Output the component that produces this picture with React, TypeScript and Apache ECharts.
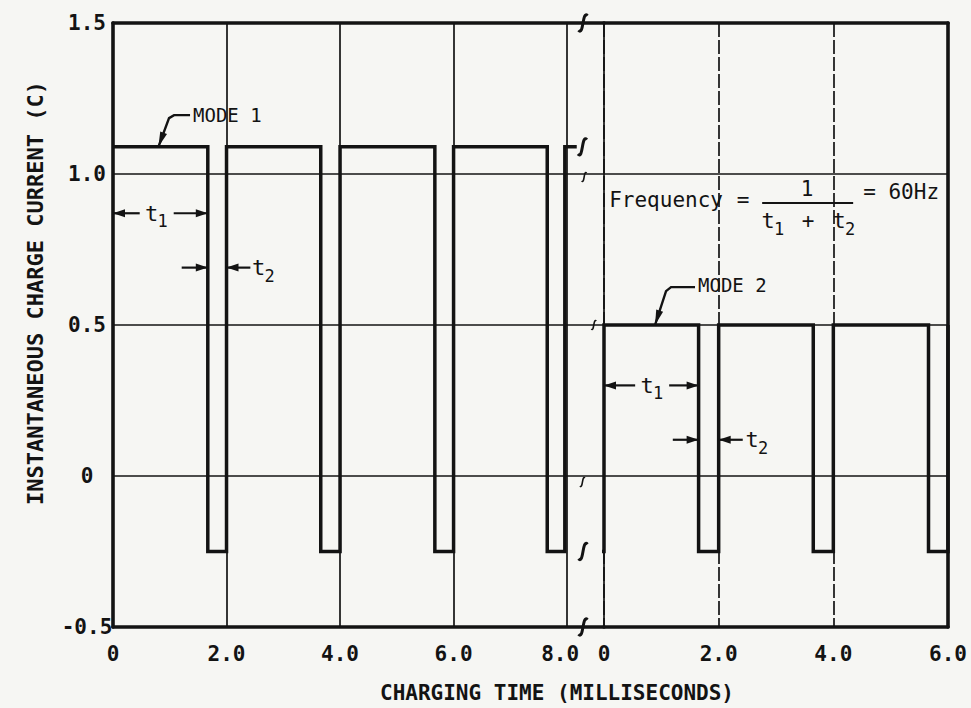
import React, { useEffect, useRef } from 'react';
import * as echarts from 'echarts';

// ---------------- data ----------------
const yTickValues = [-0.5, 0, 0.5, 1.0, 1.5];          // instantaneous charge current (C)
const leftTimeTicks = [0, 2, 4, 6, 8];                 // ms, MODE 1 panel
const rightTimeTicks = [0, 2, 4, 6];                   // ms, MODE 2 panel
const leftPanelMax = 8.65;                             // left panel runs on into the axis-break gap

const mode1Time = [0, 1.67, 1.67, 2.0, 2.0, 3.66, 3.66, 4.0, 4.0, 5.67, 5.67, 6.0, 6.0, 7.65, 7.65, 7.96, 7.96, 8.17];
const mode1Current = [1.09, 1.09, -0.25, -0.25, 1.09, 1.09, -0.25, -0.25, 1.09, 1.09, -0.25, -0.25, 1.09, 1.09, -0.25, -0.25, 1.09, 1.09];

const mode2Time = [-0.37, 0, 0, 1.65, 1.65, 2.0, 2.0, 3.65, 3.65, 4.0, 4.0, 5.66, 5.66, 6.0, 6.0];
const mode2Current = [-0.25, -0.25, 0.5, 0.5, -0.25, -0.25, 0.5, 0.5, -0.25, -0.25, 0.5, 0.5, -0.25, -0.25, 0.5];

// annotation anchors, in data coordinates of each panel
const mode1LabelAt = [1.41, 1.195];
const mode1LeaderTip = [0.8, 1.09];
const mode2LabelAt = [1.64, 0.632];
const mode2LeaderTip = [0.89, 0.5];
const t1Left = { from: 0, to: 1.67, level: 0.87, labelAt: 0.77 };
const t2Left = { at: [1.67, 2.0], tails: [1.21, 2.42], level: 0.69, labelAt: 2.53 };
const t1Right = { from: 0, to: 1.65, level: 0.3, labelAt: 0.84 };
const t2Right = { at: [1.65, 2.0], tails: [1.2, 2.42], level: 0.12, labelAt: 2.55 };
const frequencyAt = [0.09, 0.914];
const breakMarkTimes = [8.28, 8.27, 8.3, 8.47, 8.27, 8.28, 8.28];
const breakMarkLevels = [1.5, 1.09, 0.99, 0.5, -0.02, -0.25, -0.5];
const breakMarkBig = [true, true, false, false, false, true, true];

export default function App() {
  const ref = useRef<HTMLDivElement>(null);

  useEffect(() => {
    document.body.style.margin = '0';
    const chart = echarts.init(ref.current!, null, { renderer: 'svg' });
    const INK = '#131313';
    const FONT = "'DejaVu Sans Mono', 'Liberation Mono', monospace";
    const THICK = 3.6;
    const THIN = 1.7;
    const WAVE = 3.5;
    const yMin = yTickValues[0];
    const yMax = yTickValues[yTickValues.length - 1];
    const yStep = yTickValues[1] - yTickValues[0];
    const xStep = leftTimeTicks[1] - leftTimeTicks[0];
    const rightMax = rightTimeTicks[rightTimeTicks.length - 1];
    const leftLast = leftTimeTicks[leftTimeTicks.length - 1];

    const fmtLeft = (v: number) => {
      if (!leftTimeTicks.includes(v)) return '';
      const s = v === 0 ? '0' : v.toFixed(1);
      return v === leftLast ? `{shift|${s}}` : s;
    };
    const fmtRight = (v: number) => (rightTimeTicks.includes(v) ? (v === 0 ? '0' : v.toFixed(1)) : '');
    const fmtY = (v: number) => (v === 0 ? '0' : v.toFixed(1));

    const frameLine = { show: true, onZero: false, lineStyle: { color: INK, width: THICK } };
    const tickLabel = { color: INK, fontFamily: FONT, fontWeight: 'bold', fontSize: 21 };
    const noTick = { show: false };

    chart.setOption({
      animation: false,
      backgroundColor: '#f6f6f3',
      grid: [
        { left: 113, top: 23, width: 491, height: 604 },
        { left: 604, top: 23, width: 344, height: 604 },
      ],
      xAxis: [
        {
          type: 'value', gridIndex: 0, min: 0, max: leftPanelMax, interval: xStep, position: 'bottom',
          axisLine: frameLine, axisTick: noTick,
          axisLabel: {
            ...tickLabel, margin: 16, formatter: fmtLeft,
            rich: { shift: { ...tickLabel, padding: [0, 14, 0, 0] } },
          },
          splitLine: { show: true, lineStyle: { color: INK, width: THIN } },
        },
        {
          type: 'value', gridIndex: 1, min: 0, max: rightMax, interval: xStep, position: 'bottom',
          axisLine: frameLine, axisTick: noTick,
          axisLabel: { ...tickLabel, margin: 16, formatter: fmtRight },
          splitLine: { show: true, lineStyle: { color: INK, width: THIN, type: [14, 3] } },
        },
        {
          type: 'value', gridIndex: 0, min: 0, max: leftPanelMax, position: 'top',
          axisLine: frameLine, axisTick: noTick, axisLabel: { show: false }, splitLine: { show: false },
        },
        {
          type: 'value', gridIndex: 1, min: 0, max: rightMax, position: 'top',
          axisLine: frameLine, axisTick: noTick, axisLabel: { show: false }, splitLine: { show: false },
        },
      ],
      yAxis: [
        {
          type: 'value', gridIndex: 0, min: yMin, max: yMax, interval: yStep, position: 'left',
          axisLine: frameLine, axisTick: noTick,
          axisLabel: { ...tickLabel, align: 'center', margin: 26, formatter: fmtY },
          splitLine: { show: true, lineStyle: { color: INK, width: THIN } },
        },
        {
          type: 'value', gridIndex: 1, min: yMin, max: yMax, interval: yStep, position: 'left',
          axisLine: { show: false }, axisTick: noTick, axisLabel: { show: false },
          splitLine: { show: true, lineStyle: { color: INK, width: THIN } },
        },
        {
          type: 'value', gridIndex: 1, min: yMin, max: yMax, interval: yStep, position: 'right',
          axisLine: frameLine, axisTick: noTick, axisLabel: { show: false }, splitLine: { show: false },
        },
      ],
      series: [
        {
          name: 'MODE 1', type: 'line', xAxisIndex: 0, yAxisIndex: 0, silent: true,
          data: mode1Time.map((t, i) => [t, mode1Current[i]]),
          symbol: 'none', lineStyle: { color: INK, width: WAVE, join: 'miter' }, z: 5,
        },
        {
          name: 'MODE 2', type: 'line', xAxisIndex: 1, yAxisIndex: 1, silent: true, clip: false,
          data: mode2Time.map((t, i) => [t, mode2Current[i]]),
          symbol: 'none', lineStyle: { color: INK, width: WAVE, join: 'miter' }, z: 5,
        },
      ],
    });

    const P0 = (x: number, y: number) => chart.convertToPixel({ gridIndex: 0 }, [x, y]) as number[];
    const P1 = (x: number, y: number) => chart.convertToPixel({ gridIndex: 1 }, [x, y]) as number[];

    const els: any[] = [];
    const seg = (a: number[], b: number[], w = 2.2) =>
      els.push({ type: 'line', z: 20, shape: { x1: a[0], y1: a[1], x2: b[0], y2: b[1] }, style: { stroke: INK, lineWidth: w } });
    const arrow = (tip: number[], dx: number, dy: number, len = 12, half = 4) => {
      const bx = tip[0] - dx * len;
      const by = tip[1] - dy * len;
      els.push({
        type: 'polygon', z: 20,
        shape: { points: [[tip[0], tip[1]], [bx - dy * half, by + dx * half], [bx + dy * half, by - dx * half]] },
        style: { fill: INK },
      });
    };
    const txt = (x: number, y: number, s: string, size: number, extra: any = {}) =>
      els.push({
        type: 'text', z: 20, x, y, ...('rotation' in extra ? { rotation: extra.rotation } : {}),
        style: {
          text: s, fill: INK, fontFamily: FONT, fontSize: size,
          fontWeight: extra.fontWeight || 'bold',
          align: extra.align || 'left', verticalAlign: 'middle',
        },
      });
    const tSub = (cx: number, y: number, sub: string) => {
      txt(cx - 5, y, 't', 22, { align: 'center', fontWeight: 'normal' });
      txt(cx + 6, y + 8, sub, 17, { align: 'center', fontWeight: 'normal' });
    };
    const brk = (c: number[], s: number, w: number) =>
      els.push({
        type: 'bezierCurve', z: 21,
        shape: {
          x1: c[0] + 0.5 * s, y1: c[1] - 0.8 * s,
          cpx1: c[0] - 0.1 * s, cpy1: c[1] - 1.5 * s,
          cpx2: c[0] + 0.1 * s, cpy2: c[1] + 1.5 * s,
          x2: c[0] - 0.5 * s, y2: c[1] + 0.8 * s,
        },
        style: { stroke: INK, lineWidth: w, fill: 'none' },
      });

    // MODE 1 label + leader
    {
      const L = P0(mode1LabelAt[0], mode1LabelAt[1]);
      const T = P0(mode1LeaderTip[0], mode1LeaderTip[1]);
      txt(L[0], L[1], 'MODE 1', 19, { fontWeight: 'normal' });
      const bend = [L[0] - 24, L[1] + 3];
      els.push({
        type: 'polyline', z: 20,
        shape: { points: [[L[0] - 3, L[1]], [L[0] - 19, L[1]], bend, T] },
        style: { stroke: INK, lineWidth: 2.4, fill: 'none' },
      });
      const dx = T[0] - bend[0], dy = T[1] - bend[1], n = Math.hypot(dx, dy);
      arrow(T, dx / n, dy / n, 15, 3.6);
    }
    // MODE 2 label + leader
    {
      const L = P1(mode2LabelAt[0], mode2LabelAt[1]);
      const T = P1(mode2LeaderTip[0], mode2LeaderTip[1]);
      txt(L[0], L[1], 'MODE 2', 19, { fontWeight: 'normal' });
      const bend = [L[0] - 32, L[1] + 6];
      els.push({
        type: 'polyline', z: 20,
        shape: { points: [[L[0] - 3, L[1] + 2], [L[0] - 27, L[1] + 2], bend, T] },
        style: { stroke: INK, lineWidth: 2.4, fill: 'none' },
      });
      const dx = T[0] - bend[0], dy = T[1] - bend[1], n = Math.hypot(dx, dy);
      arrow(T, dx / n, dy / n, 15, 3.6);
    }

    // t1 (outward arrows) and t2 (inward arrows) dimensions
    const dimOut = (P: typeof P0, d: typeof t1Left) => {
      const a = P(d.from, d.level), b = P(d.to, d.level), c = P(d.labelAt, d.level);
      seg(a, [c[0] - 17, c[1]]);
      seg([c[0] + 17, c[1]], b);
      arrow(a, -1, 0);
      arrow(b, 1, 0);
      tSub(c[0], c[1], '1');
    };
    const dimIn = (P: typeof P0, d: typeof t2Left) => {
      const a = P(d.at[0], d.level), b = P(d.at[1], d.level);
      const ta = P(d.tails[0], d.level), tb = P(d.tails[1], d.level);
      seg(ta, a);
      seg(tb, b);
      arrow(a, 1, 0);
      arrow(b, -1, 0);
      const c = P(d.labelAt, d.level);
      tSub(c[0] + 7, c[1], '2');
    };
    dimOut(P0, t1Left);
    dimIn(P0, t2Left);
    dimOut(P1, t1Right);
    dimIn(P1, t2Right);

    // Frequency formula
    {
      const F = P1(frequencyAt[0], frequencyAt[1]);
      const N = { fontWeight: 'normal' };
      txt(F[0], F[1], 'Frequency', 21, N);
      txt(F[0] + 134, F[1], '=', 21, { ...N, align: 'center' });
      txt(F[0] + 198, F[1] - 11, '1', 21, { ...N, align: 'center' });
      seg([F[0] + 153, F[1] + 3], [F[0] + 244, F[1] + 3], 2);
      tSub(F[0] + 164, F[1] + 21, '1');
      txt(F[0] + 199, F[1] + 21, '+', 21, { ...N, align: 'center' });
      tSub(F[0] + 235, F[1] + 21, '2');
      txt(F[0] + 254, F[1] - 8, '= 60Hz', 21, N);
    }

    // axis-break marks
    breakMarkTimes.forEach((t, i) => {
      const c = P0(t, breakMarkLevels[i]);
      if (breakMarkBig[i]) brk(c, 9, 3);
      else brk(c, 5, 1.6);
    });

    // axis titles
    txt(557, 693, 'CHARGING TIME (MILLISECONDS)', 21, { align: 'center' });
    txt(35, 293, 'INSTANTANEOUS CHARGE CURRENT (C)', 22, { align: 'center', rotation: Math.PI / 2 });

    chart.setOption({ graphic: { elements: els } });

    return () => chart.dispose();
  }, []);

  return <div ref={ref} style={{ position: 'absolute', left: 0, top: 0, width: 971, height: 708 }} />;
}
